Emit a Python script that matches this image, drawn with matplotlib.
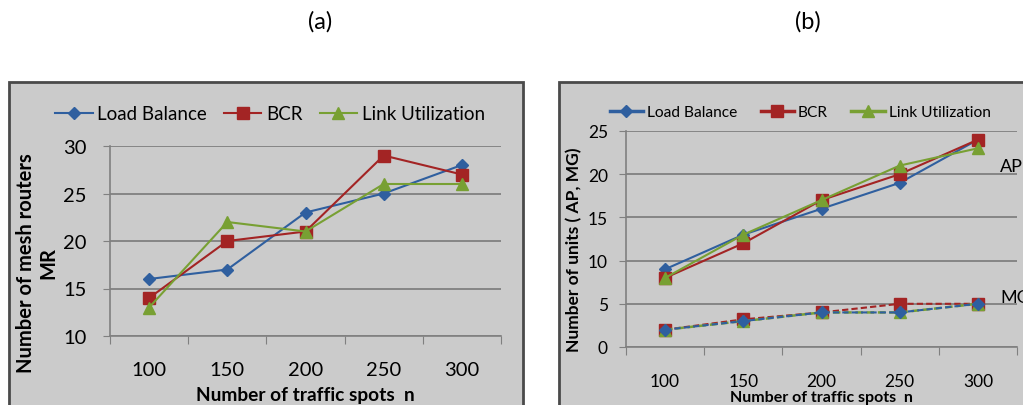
import matplotlib.pyplot as plt
from matplotlib.patches import Rectangle
from matplotlib.lines import Line2D

plt.rcParams['font.family'] = ['Lato', 'DejaVu Sans']

# data
spots = ["100", "150", "200", "250", "300"]

# (a) number of mesh routers
mr_load = [16, 17, 23, 25, 28]
mr_bcr = [14, 20, 21, 29, 27]
mr_link = [13, 22, 21, 26, 26]

# (b) number of AP and MG units
ap_load = [9, 13, 16, 19, 24]
ap_bcr = [8, 12, 17, 20, 24]
ap_link = [8, 13, 17, 21, 23]
mg_load = [2, 3, 4, 4, 5]
mg_bcr = [2, 3.2, 4, 5, 5]
mg_link = [2, 3, 4, 4, 5]

blue = "#2f5f9f"
red = "#a32424"
green = "#78a033"
bg = "#cbcbcb"
edge = "#4a4a4a"

W, H = 1023, 406
fig = plt.figure(figsize=(W / 100, H / 100), dpi=100)
fig.patch.set_facecolor("white")


def px(x0, y0, x1, y1):
    # pixel box (top-left origin) -> figure fraction
    return [x0 / W, 1 - y1 / H, (x1 - x0) / W, (y1 - y0) / H]


# panel backgrounds
for x0, x1 in [(9, 523), (559, 1030)]:
    fig.patches.append(Rectangle((x0 / W, -0.05), (x1 - x0) / W, 1.05 - 83 / H,
                                 transform=fig.transFigure, facecolor=bg,
                                 edgecolor=edge, linewidth=2, zorder=-5))

fig.text(320 / W, 1 - 22 / H, "(a)", ha="center", va="center", fontsize=17)
fig.text(808 / W, 1 - 22 / H, "(b)", ha="center", va="center", fontsize=17)


def style_axes(ax, ylim, step, fs, pad, ypad):
    ax.set_facecolor("none")
    ax.set_xlim(-0.5, 4.5)
    ax.set_ylim(*ylim)
    ax.set_yticks(range(ylim[0], ylim[1] + 1, step))
    ax.set_xticks([i - 0.5 for i in range(6)])
    ax.set_xticklabels([])
    ax.set_xticks(range(5), minor=True)
    ax.set_xticklabels(spots, minor=True)
    ax.tick_params(axis="x", which="major", length=6, color="#808080", direction="out")
    ax.tick_params(axis="x", which="minor", length=0, labelsize=fs, pad=pad)
    ax.tick_params(axis="y", length=5, color="#808080", labelsize=fs, pad=ypad)
    ax.grid(axis="y", color="#7a7a7a", linewidth=1.2)
    for s in ["top", "right"]:
        ax.spines[s].set_visible(False)
    for s in ["left", "bottom"]:
        ax.spines[s].set_color("#808080")
        ax.spines[s].set_linewidth(1.2)
    ax.set_axisbelow(True)


# ---- (a)
ax1 = fig.add_axes(px(110, 147, 501, 337))
style_axes(ax1, (10, 30), 5, 14.5, 18, 12)
x = range(5)
ax1.plot(x, mr_load, color=blue, marker="D", ms=6, lw=1.5, label="Load Balance")
ax1.plot(x, mr_bcr, color=red, marker="s", ms=9, lw=1.5, label="BCR")
ax1.plot(x, mr_link, color=green, marker="^", ms=9, lw=1.5, label="Link Utilization")
ax1.legend(loc="center", bbox_to_anchor=(270 / W, 1 - 115 / H),
           bbox_transform=fig.transFigure, ncol=3, frameon=False, fontsize=13.5,
           handlelength=2.0, handletextpad=0.25, columnspacing=0.9)
fig.text(305 / W, 1 - 396 / H, "Number of traffic spots  n", ha="center", va="center",
         fontsize=13.8, fontweight="bold")
fig.text(37 / W, 1 - 263 / H, "Number of mesh routers\nMR", ha="center", va="center",
         rotation=90, fontsize=14.5, fontweight="bold", linespacing=1.15)

# ---- (b)
ax2 = fig.add_axes(px(626, 132, 1017, 348))
style_axes(ax2, (0, 25), 5, 12.5, 19, 8)
ax2.plot(x, ap_load, color=blue, marker="D", ms=6, lw=1.5, label="Load Balance")
ax2.plot(x, ap_bcr, color=red, marker="s", ms=8, lw=1.5, label="BCR")
ax2.plot(x, ap_link, color=green, marker="^", ms=8, lw=1.5, label="Link Utilization")
ax2.plot(x, mg_bcr, color=red, marker="s", ms=8, lw=1.5, ls=(0, (3, 1.5)))
ax2.plot(x, mg_link, color=green, marker="^", ms=8, lw=1.8, ls=(0, (3, 1.5)))
ax2.plot(x, mg_load, color=blue, marker="D", ms=6, lw=1.5, ls=(0, (3, 1.5)))
handles = [Line2D([], [], color=blue, marker="D", ms=6, lw=2.5),
           Line2D([], [], color=red, marker="s", ms=8, lw=2.5),
           Line2D([], [], color=green, marker="^", ms=8, lw=2.5)]
ax2.legend(handles, ["Load Balance", "BCR", "Link Utilization"], loc="center",
           bbox_to_anchor=(800 / W, 1 - 113 / H), bbox_transform=fig.transFigure,
           ncol=3, frameon=False, fontsize=11.2, handlelength=2.15,
           handletextpad=0.25, columnspacing=1.5)
fig.text(821 / W, 1 - 398 / H, "Number of traffic spots  n", ha="center", va="center",
         fontsize=11.5, fontweight="bold")
fig.text(574 / W, 1 - 250 / H, "Number of units ( AP, MG)", ha="center", va="center",
         rotation=90, fontsize=12.5, fontweight="bold")
fig.text(1000 / W, 1 - 167 / H, "AP", ha="left", va="center", fontsize=13)
fig.text(1000 / W, 1 - 298 / H, "MG", ha="left", va="center", fontsize=13)

fig.savefig("out.png", dpi=100, facecolor="white")
